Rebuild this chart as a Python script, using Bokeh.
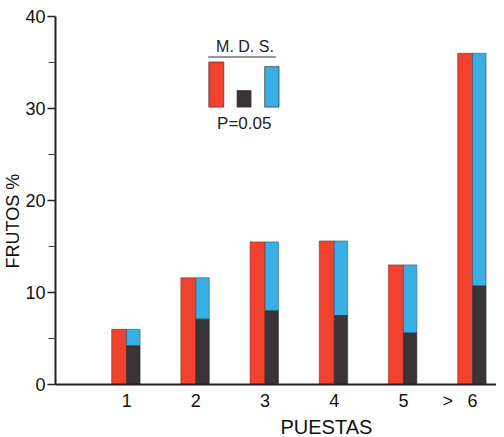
from bokeh.plotting import figure
from bokeh.models import Range1d, FixedTicker, Label, ColumnDataSource, Title
from bokeh.embed import file_html
from bokeh.resources import INLINE

# ---------------- data ----------------
categories = ["1", "2", "3", "4", "5", "6"]
positions = [1, 2, 3, 4, 5, 6]
red_values = [6.0, 11.6, 15.5, 15.6, 13.0, 36.0]      # first (red) bar
total_values = [6.0, 11.6, 15.5, 15.6, 13.0, 36.0]    # second bar, total height (blue top)
dark_values = [4.2, 7.1, 8.0, 7.5, 5.6, 10.7]         # second bar, dark lower part
mds_names = ["red", "dark", "blue"]
mds_values = [4.9, 1.8, 4.4]                          # M.D.S. bars, P=0.05
y_ticks = [0, 10, 20, 30, 40]
minor_y_ticks = [5, 15, 25, 35]
break_mark = ">"          # mark printed before the last class (6 and more)
break_pos = 5.64

RED = "#F1412F"
BLUE = "#3AAFE6"
DARK = "#3B3436"
FONT = "Liberation Sans"

# ---------------- figure ----------------
p = figure(width=496, height=437, output_backend="svg", toolbar_location=None,
           x_range=Range1d(-0.028, 6.345), y_range=Range1d(0, 40),
           min_border_left=54, min_border_right=0, min_border_top=16, min_border_bottom=51)
p.outline_line_color = None
p.xgrid.grid_line_color = None
p.ygrid.grid_line_color = None
p.background_fill_color = "white"

RW = 0.216   # red bar width (data units)
SW = 0.194   # second bar width

red_x = [x - RW / 2 for x in positions]
sec_x = [x + SW / 2 for x in positions]

src = ColumnDataSource(dict(rx=red_x, sx=sec_x, red=red_values, tot=total_values, dark=dark_values))
p.vbar(x="rx", width=RW, bottom=0, top="red", source=src, fill_color=RED, line_color="#8a2a1c", line_width=0.6)
p.vbar(x="sx", width=SW, bottom="dark", top="tot", source=src, fill_color=BLUE, line_color="#2a5670", line_width=0.6)
p.vbar(x="sx", width=SW, bottom=0, top="dark", source=src, fill_color=DARK, line_color="#2a2a2a", line_width=0.6)

# ---------------- M.D.S. key ----------------
key_x = [2.296, 2.697, 3.099]
key_w = [0.216, 0.202, 0.206]
key_base = 30.15
key_colors = [RED, DARK, BLUE]
ksrc = ColumnDataSource(dict(x=key_x, w=key_w, top=[key_base + v for v in mds_values], c=key_colors))
p.vbar(x="x", width="w", bottom=key_base, top="top", fill_color="c", line_color="#3a2a2a", line_width=0.7, source=ksrc)
p.add_layout(Label(x=2.71, y=35.8, text="M. D. S.", text_align="center", text_baseline="bottom",
                   text_font=FONT, text_font_size="16px", text_color="#222"))
p.line([2.178, 3.157], [35.6, 35.6], line_color="#333", line_width=1.2)
p.add_layout(Label(x=2.70, y=28.4, text="P=0.05", text_align="center", text_baseline="middle",
                   text_font=FONT, text_font_size="17px", text_color="#222"))

# ---------------- axes ----------------
xa = p.xaxis[0]
xa.ticker = FixedTicker(ticks=positions + [break_pos])
overrides = {pos: lab for pos, lab in zip(positions, categories)}
overrides[break_pos] = break_mark
xa.major_label_overrides = overrides
xa.major_tick_line_color = None
xa.major_tick_out = 0
xa.major_tick_in = 0
xa.minor_tick_line_color = None
xa.minor_tick_out = 0
xa.minor_tick_in = 0
xa.axis_line_color = "#222"
xa.axis_line_width = 2
xa.major_label_standoff = 6
xa.major_label_text_font = FONT
xa.major_label_text_font_size = "18px"
xa.major_label_text_color = "#111"

ya = p.yaxis[0]
ya.ticker = FixedTicker(ticks=y_ticks, minor_ticks=minor_y_ticks)
ya.axis_line_color = "#222"
ya.axis_line_width = 2
ya.major_tick_line_color = "#222"
ya.major_tick_line_width = 1.5
ya.major_tick_out = 8
ya.major_tick_in = 0
ya.minor_tick_line_color = "#444"
ya.minor_tick_line_width = 1.2
ya.minor_tick_out = 7
ya.minor_tick_in = 0
ya.major_label_standoff = 2
ya.major_label_text_font = FONT
ya.major_label_text_font_size = "18px"
ya.major_label_text_color = "#111"

# axis titles placed in side panels
p.add_layout(Title(text="PUESTAS", align="left", offset=225, standoff=0,
                   text_font=FONT, text_font_size="20px", text_font_style="normal",
                   text_color="#111"), "below")
p.add_layout(Title(text="FRUTOS %", align="left", offset=116, standoff=0,
                   text_font=FONT, text_font_size="18px", text_font_style="normal",
                   text_color="#111"), "left")

open("out.html", "w").write(file_html(p, INLINE))
